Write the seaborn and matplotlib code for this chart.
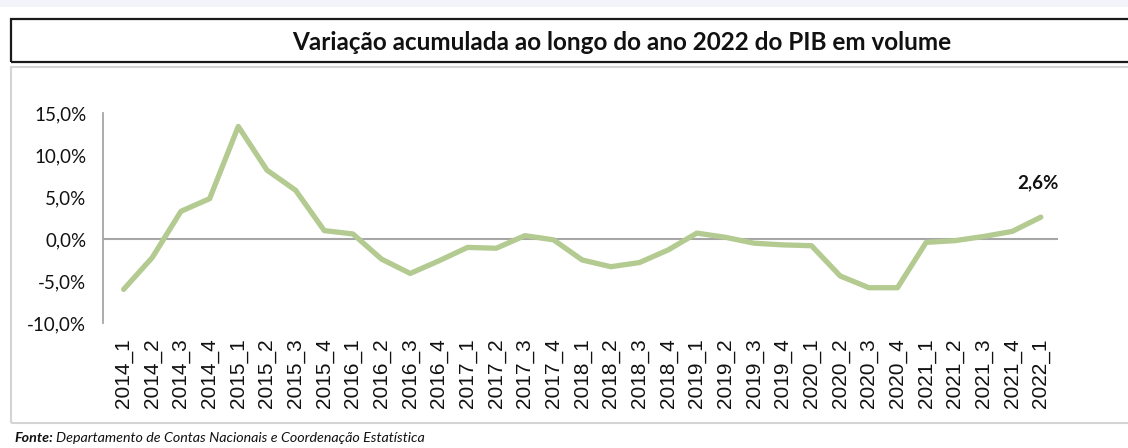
"""
Variação acumulada ao longo do ano 2022 do PIB em volume
"""

import pandas as pd
import matplotlib
matplotlib.use("Agg")
import matplotlib.pyplot as plt
from matplotlib.patches import Rectangle
from matplotlib.ticker import FuncFormatter
import seaborn as sns

# ---------------------------------------------------------------------------
# Dados
# ---------------------------------------------------------------------------
trimestres = [
    "2014_1", "2014_2", "2014_3", "2014_4",
    "2015_1", "2015_2", "2015_3", "2015_4",
    "2016_1", "2016_2", "2016_3", "2016_4",
    "2017_1", "2017_2", "2017_3", "2017_4",
    "2018_1", "2018_2", "2018_3", "2018_4",
    "2019_1", "2019_2", "2019_3", "2019_4",
    "2020_1", "2020_2", "2020_3", "2020_4",
    "2021_1", "2021_2", "2021_3", "2021_4",
    "2022_1",
]
variacao = [
    -6.0, -2.2, 3.3, 4.8,
    13.4, 8.2, 5.8, 1.0,
    0.6, -2.4, -4.1, -2.6,
    -1.0, -1.1, 0.4, -0.1,
    -2.5, -3.3, -2.8, -1.3,
    0.7, 0.2, -0.5, -0.7,
    -0.8, -4.4, -5.8, -5.8,
    -0.4, -0.2, 0.3, 0.9,
    2.6,
]
y_ticks = [-10, -5, 0, 5, 10, 15]

titulo = "Variação acumulada ao longo do ano 2022 do PIB em volume"
fonte_rotulo = "Fonte:"
fonte_texto = "Departamento de Contas Nacionais e Coordenação Estatística"

df = pd.DataFrame({"trimestre": trimestres, "variacao": variacao})

# ---------------------------------------------------------------------------
# Configuração
# ---------------------------------------------------------------------------
sns.set_style("white")
plt.rcParams["font.family"] = ["Lato", "DejaVu Sans"]
plt.rcParams["text.color"] = "#111111"

W, H = 1128, 448
COR_LINHA = "#b3ca90"
COR_TEXTO = "#111111"

fig = plt.figure(figsize=(W / 100, H / 100), dpi=100)

# faixa clara no topo da página
fig.add_artist(Rectangle((0, 1 - 7 / H), 1, 7 / H, transform=fig.transFigure,
                         facecolor="#f1f4f8", edgecolor="none"))

# caixa do título e caixa do gráfico
fig.add_artist(Rectangle((11 / W, 1 - 423 / H), 1.1, (423 - 67) / H, transform=fig.transFigure,
                         fill=False, edgecolor="#d4d4d4", linewidth=1.5))
fig.add_artist(Rectangle((11 / W, 1 - 62 / H), 1.1, (62 - 19) / H, transform=fig.transFigure,
                         fill=False, edgecolor="#1a1a1a", linewidth=1.6))
fig.text(622 / W, 1 - 42 / H, titulo, ha="center", va="center", fontsize=17.5, fontweight="bold")

ax = fig.add_axes([103 / W, 1 - 323 / H, (1058 - 103) / W, (323 - 113) / H])
sns.lineplot(data=df, x="trimestre", y="variacao", sort=False, color=COR_LINHA,
             linewidth=3.8, solid_capstyle="round", ax=ax)
ax.axhline(0, color="#a6a6a6", linewidth=1.5, zorder=1)

ax.set_xlim(-0.72, len(trimestres) - 1 + 0.6)
ax.set_ylim(-10, 15)
ax.set_yticks(y_ticks)
ax.yaxis.set_major_formatter(FuncFormatter(lambda v, p: f"{v:.1f}%".replace(".", ",")))
ax.set_xlabel("")
ax.set_ylabel("")

for lado in ["top", "right", "bottom"]:
    ax.spines[lado].set_visible(False)
ax.spines["left"].set_color("#a6a6a6")
ax.spines["left"].set_linewidth(1.3)

ax.tick_params(axis="y", length=0, pad=12, labelsize=13.5, labelcolor=COR_TEXTO)
ax.tick_params(axis="x", length=0, pad=11, labelsize=15, labelrotation=90, labelcolor=COR_TEXTO)
for rot in ax.get_xticklabels():
    rot.set_fontfamily(["Liberation Sans", "DejaVu Sans"])
    rot.set_va("top")

# rótulo do último valor
ultimo = len(trimestres) - 1
ax.annotate(f"{variacao[-1]:.1f}%".replace(".", ","), (ultimo, variacao[-1]),
            xytext=(-2, 19), textcoords="offset points", ha="center", va="bottom",
            fontsize=13.5, fontweight="bold", color=COR_TEXTO)

# fonte
t = fig.text(14 / W, 1 - 438 / H, fonte_rotulo, ha="left", va="center",
             fontsize=10.3, fontweight="bold", fontstyle="italic")
fig.canvas.draw()
bb = t.get_window_extent()
fig.text(bb.x1 / W + 3 / W, 1 - 438 / H, fonte_texto, ha="left", va="center",
         fontsize=10.3, fontstyle="italic")

fig.savefig("out.png", dpi=100)
